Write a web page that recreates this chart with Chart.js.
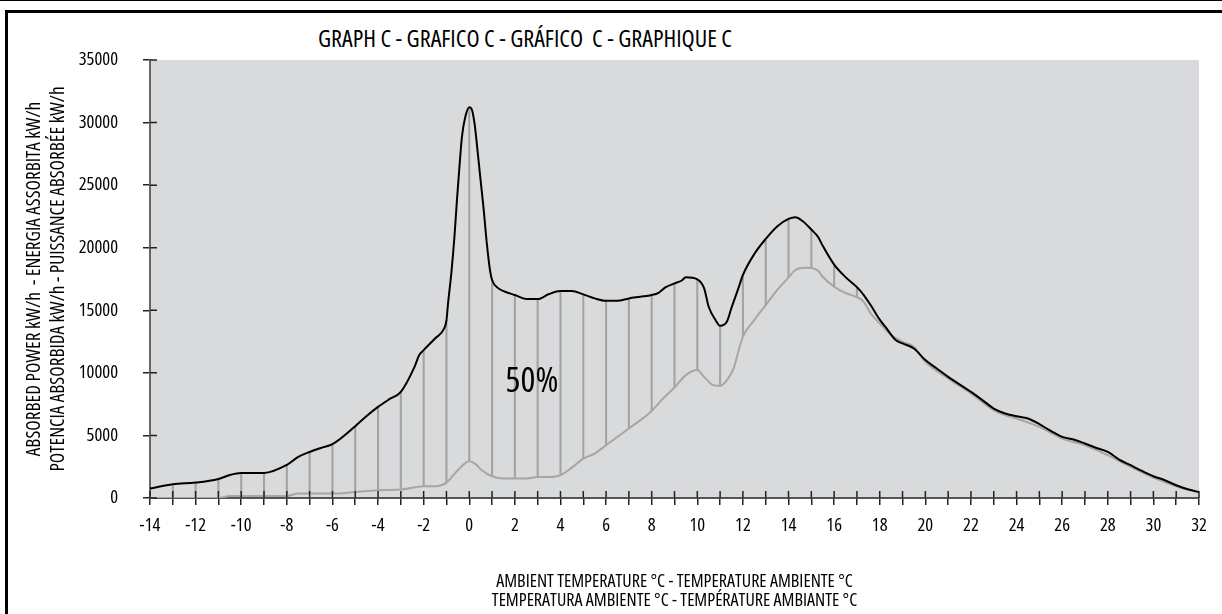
<!DOCTYPE html>
<html>
<head>
<meta charset="utf-8">
<script src="https://cdn.jsdelivr.net/npm/chart.js@4.4.0/dist/chart.umd.min.js"></script>
<style>
html,body{margin:0;padding:0;background:#fff;}
#wrap{position:relative;width:1222px;height:614px;overflow:hidden;}
#rule{position:absolute;left:0;top:0;width:1222px;height:1px;background:#000;}
#frame{position:absolute;left:5px;top:10px;width:1300px;height:700px;border-top:3px solid #000;border-left:3px solid #000;}
#title{position:absolute;left:525px;top:38px;transform:translate(-50%,-50%);line-height:1;white-space:pre;color:#000;}
canvas{position:absolute;left:0;top:0;}
</style>
</head>
<body>
<div id="wrap">
  <div id="rule"></div>
  <div id="frame"></div>
  <div id="title">GRAPH C - GRAFICO C - GRÁFICO  C - GRAPHIQUE C</div>
  <canvas id="chartC" width="1222" height="614"></canvas>
</div>
<script>
// ============================================================
// Graph C — absorbed power vs ambient temperature
// ============================================================

// 100% curve (black)
const tempFull=[-14,-13,-12,-11,-10.5,-10,-9,-8,-7.5,-7,-6.5,-6,-5,-4.5,-4,-3.5,-3,-2.4,-2.2,-2,-1.5,-1.1,-1,-0.93,-0.78,-0.65,-0.54,-0.43,-0.32,-0.17,0,0.1,0.23,0.36,0.48,0.62,0.77,0.91,1,1.28,1.57,2,2.5,3,3.5,4,4.5,5,5.5,6,6.5,7,7.5,8,8.3,8.6,9,9.3,9.5,10,10.3,10.5,10.8,11,11.3,11.5,11.8,12,12.5,13,13.5,14,14.3,14.6,15,15.3,15.5,16,16.5,17,17.3,17.6,18,18.3,18.7,19,19.5,20,20.5,21,22,22.5,23,23.5,24,24.5,25,25.5,26,26.5,27,27.5,28,28.5,29,29.5,30,30.5,31,31.5,32];
const powerFull=[750,1100,1230,1520,1840,2000,2000,2640,3280,3680,4000,4300,5740,6560,7280,7900,8480,10480,11400,11820,12750,13550,14200,15550,18080,20880,23800,26480,28880,30480,31230,31100,29950,27800,25680,23280,20350,18200,17420,16750,16480,16220,15900,15900,16300,16540,16540,16270,15950,15760,15760,15950,16080,16220,16400,16830,17150,17360,17630,17470,16750,15280,14220,13760,14100,15200,16750,17820,19500,20700,21700,22300,22430,22150,21450,20850,20150,18650,17650,16850,16220,15420,14250,13550,12620,12350,11950,11020,10350,9680,8480,7820,7150,6750,6540,6350,5900,5360,4880,4670,4350,4000,3680,3070,2620,2160,1740,1420,1020,700,480];

// 50% curve (grey)
const tempHalf=[-14,-13,-12,-11,-10.5,-10,-9,-8,-7.5,-7,-6,-5,-4,-3,-2,-1.5,-1,-0.5,0,0.25,0.55,1,1.5,2,2.5,3,3.5,4,4.5,5,5.5,6,7,8,8.5,9,9.5,10,10.3,10.7,11,11.3,11.6,11.8,12,12.5,13,13.5,14,14.3,14.7,15,15.3,15.5,16,16.5,17,17.3,17.6,18,18.5,19,19.5,20,21,22,23,23.5,24,25,26,27,28,29,30,31,32];
const powerHalf=[0,0,0,0,160,160,160,160,350,350,350,480,620,670,940,940,1230,2220,2940,2750,2220,1740,1550,1550,1550,1680,1680,1820,2430,3150,3550,4220,5550,6960,7950,8830,9820,10220,9680,9020,8960,9420,10400,11700,12900,14220,15420,16620,17630,18220,18400,18380,18150,17680,16880,16380,16050,15680,14750,13950,13020,12480,12080,10880,9550,8350,7020,6620,6350,5680,4750,4220,3420,2480,1630,940,430];

// hatched band between the two curves
const hatchTemps=[-13,-12,-11,-10,-9,-8,-7,-6,-5,-4,-3,-2,-1,0,1,2,3,4,5,6,7,8,9,10,11,12,13,14,15,16,17];

const xTitle=['AMBIENT TEMPERATURE °C - TEMPERATURE AMBIENTE °C','TEMPERATURA AMBIENTE °C - TEMPÉRATURE AMBIANTE °C'];
const yTitle=['ABSORBED POWER kW/h  - ENERGIA ASSORBITA kW/h','POTENCIA ABSORBIDA kW/h - PUISSANCE ABSORBÉE kW/h'];
const shareLabel='50%';
const shareLabelAt=[2.75,9250];

// pick the narrowest installed sans (the original uses a condensed face)
const probe=document.createElement('canvas').getContext('2d');
const textW=f=>{probe.font=f;return probe.measureText(xTitle[0]).width;};
let pick={fam:'sans-serif',st:'',w:textW('16px sans-serif')};
["'Liberation Sans Narrow'","'DejaVu Sans Condensed'","'Open Sans'","'Noto Sans'","Roboto","Lato","Inter"].forEach(fam=>{
  if(textW(`16px ${fam}, monospace`)===textW('16px monospace'))return;
  ['condensed ',''].forEach(st=>{
    const w=textW(`${st}16px ${fam}, sans-serif`);
    if(w<pick.w-0.5)pick={fam:fam+', sans-serif',st,w};
  });
});
const k=Math.min(1.15,357/pick.w);
const fs=n=>Math.round(n*k*10)/10;

Chart.defaults.font.family=pick.fam;
Chart.defaults.font.weight=pick.st?'condensed':null;
Chart.defaults.color='#000';

const titleEl=document.getElementById('title');
titleEl.style.fontFamily=pick.fam;
titleEl.style.fontStretch=pick.st?'condensed':'normal';
titleEl.style.fontSize=fs(21.3)+'px';

const valueAt=(xs,ys,t)=>ys[xs.indexOf(t)];
const hatchData=hatchTemps.map(t=>({x:t,y:[valueAt(tempHalf,powerHalf,t),valueAt(tempFull,powerFull,t)]}));

const plotBg={
  id:'plotBg',
  beforeDraw(c){
    const {ctx,chartArea:a}=c;
    ctx.save();
    ctx.fillStyle='#d9dadc';
    ctx.fillRect(a.left,a.top,a.right-a.left,a.bottom-a.top);
    ctx.restore();
  }
};

// ticks cross the axis lines; the library draws the outer half
const crossTicks={
  id:'crossTicks',
  afterDatasetsDraw(c){
    const {ctx,scales:{x,y}}=c;
    ctx.save();
    ctx.strokeStyle='#222';
    ctx.lineWidth=1.5;
    ctx.beginPath();
    x.ticks.forEach(t=>{const px=x.getPixelForValue(t.value);ctx.moveTo(px,x.top);ctx.lineTo(px,x.top-7);});
    y.ticks.forEach(t=>{const py=y.getPixelForValue(t.value);ctx.moveTo(y.right,py);ctx.lineTo(y.right+7,py);});
    ctx.stroke();
    ctx.font=`${pick.st}${fs(31)}px ${pick.fam}`;
    ctx.fillStyle='#000';
    ctx.textAlign='center';
    ctx.textBaseline='middle';
    ctx.fillText(shareLabel,x.getPixelForValue(shareLabelAt[0]),y.getPixelForValue(shareLabelAt[1]));
    ctx.restore();
  }
};

new Chart(document.getElementById('chartC'),{
  type:'line',
  data:{
    datasets:[
      {label:'100%',data:tempFull.map((t,i)=>({x:t,y:powerFull[i]})),borderColor:'#000',borderWidth:2,pointRadius:0,cubicInterpolationMode:'monotone',order:0},
      {label:'50%',data:tempHalf.map((t,i)=>({x:t,y:powerHalf[i]})),borderColor:'#a6a6a6',borderWidth:2,pointRadius:0,cubicInterpolationMode:'monotone',order:1},
      {type:'bar',label:'band',data:hatchData,backgroundColor:'#a3a3a3',barThickness:1.4,borderWidth:0,grouped:false,order:2}
    ]
  },
  options:{
    responsive:false,
    animation:false,
    events:[],
    layout:{padding:{top:60,left:0,right:23,bottom:0}},
    plugins:{legend:{display:false},tooltip:{enabled:false}},
    scales:{
      x:{
        type:'linear',min:-14,max:32,offset:false,
        afterFit:s=>{s.height=116;},
        grid:{drawOnChartArea:false,offset:false,tickLength:7,color:'#222',lineWidth:1.5},
        border:{color:'#555',width:2},
        ticks:{stepSize:1,maxTicksLimit:100,autoSkip:false,maxRotation:0,padding:11,font:{size:fs(16.3),lineHeight:'19px'},
          callback:v=>(v%2===0?String(v):'')},
        title:{display:true,text:xTitle,font:{size:fs(16),lineHeight:'19px'},padding:{top:0,bottom:4}}
      },
      y:{
        min:0,max:35000,
        afterFit:s=>{s.width=150;},
        grid:{drawOnChartArea:false,tickLength:7,color:'#222',lineWidth:1.5},
        border:{color:'#666',width:2},
        ticks:{stepSize:5000,padding:25,font:{size:fs(16.3)},callback:v=>String(v)},
        title:{display:true,text:yTitle,font:{size:fs(17),lineHeight:'24px'},padding:{top:23,bottom:0}}
      }
    }
  },
  plugins:[plotBg,crossTicks]
});
</script>
</body>
</html>
